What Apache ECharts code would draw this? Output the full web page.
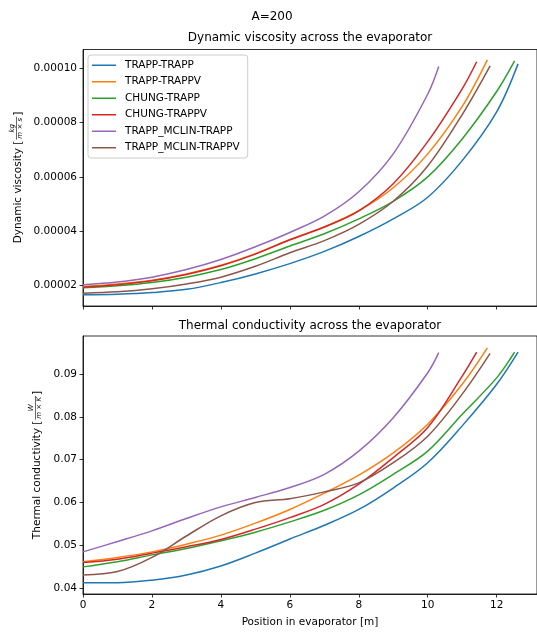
<!DOCTYPE html>
<html>
<head>
<meta charset="utf-8">
<script src="https://cdn.jsdelivr.net/npm/echarts@6/dist/echarts.min.js"></script>
<style>
  html, body { margin: 0; padding: 0; background: #fff; }
  #chart { width: 537px; height: 633px; }
</style>
</head>
<body>
<div id="chart"></div>
<script>
// series names (legend order)
const seriesNames = ["TRAPP-TRAPP", "TRAPP-TRAPPV", "CHUNG-TRAPP", "CHUNG-TRAPPV", "TRAPP_MCLIN-TRAPP", "TRAPP_MCLIN-TRAPPV"];
const colors = ["#1f77b4", "#ff7f0e", "#2ca02c", "#d62728", "#9467bd", "#8c564b"];

// position in evaporator [m], one list per model combination
const posTrappTrapp = [0, 1, 2, 3, 4, 5, 6, 7, 8, 9, 10, 11, 12, 12.62];
const posTrappTrappv = [0, 1, 2, 3, 4, 5, 6, 7, 8, 9, 10, 11, 11.73];
const posChungTrapp = [0, 1, 2, 3, 4, 5, 6, 7, 8, 9, 10, 11, 12, 12.52];
const posChungTrappv = [0, 1, 2, 3, 4, 5, 6, 7, 8, 9, 10, 11, 11.42];
const posMclinTrapp = [0, 1, 2, 3, 4, 5, 6, 7, 8, 9, 10, 10.32];
const posMclinTrappv = [0, 1, 2, 3, 4, 5, 6, 7, 8, 9, 10, 11, 11.81];

// dynamic viscosity [kg/(m s)]
const viscTrappTrapp = [1.65e-5, 1.67e-5, 1.73e-5, 1.85e-5, 2.10e-5, 2.42e-5, 2.80e-5, 3.25e-5, 3.80e-5, 4.45e-5, 5.25e-5, 6.60e-5, 8.40e-5, 10.17e-5];
const viscTrappTrappv = [1.96e-5, 2.05e-5, 2.19e-5, 2.42e-5, 2.74e-5, 3.17e-5, 3.68e-5, 4.15e-5, 4.75e-5, 5.60e-5, 6.85e-5, 8.60e-5, 10.32e-5];
const viscChungTrapp = [1.91e-5, 1.98e-5, 2.10e-5, 2.30e-5, 2.58e-5, 2.98e-5, 3.45e-5, 3.90e-5, 4.45e-5, 5.10e-5, 6.00e-5, 7.40e-5, 9.15e-5, 10.28e-5];
const viscChungTrappv = [1.93e-5, 2.02e-5, 2.17e-5, 2.40e-5, 2.72e-5, 3.15e-5, 3.68e-5, 4.15e-5, 4.75e-5, 5.75e-5, 7.30e-5, 9.25e-5, 10.25e-5];
const viscMclinTrapp = [2.02e-5, 2.12e-5, 2.30e-5, 2.58e-5, 2.95e-5, 3.42e-5, 3.95e-5, 4.55e-5, 5.45e-5, 6.85e-5, 9.05e-5, 10.07e-5];
const viscMclinTrappv = [1.71e-5, 1.76e-5, 1.87e-5, 2.05e-5, 2.30e-5, 2.70e-5, 3.20e-5, 3.65e-5, 4.25e-5, 5.10e-5, 6.40e-5, 8.30e-5, 10.10e-5];

// thermal conductivity [W/(m K)]
const condTrappTrapp = [0.0413, 0.0413, 0.0419, 0.0431, 0.0452, 0.0482, 0.0515, 0.0547, 0.0584, 0.0634, 0.0693, 0.0779, 0.0876, 0.0951];
const condTrappTrappv = [0.0462, 0.0472, 0.0485, 0.0503, 0.0524, 0.0552, 0.0584, 0.0622, 0.0664, 0.0716, 0.0783, 0.0876, 0.0961];
const condChungTrapp = [0.0450, 0.0462, 0.0478, 0.0493, 0.0511, 0.0531, 0.0555, 0.0582, 0.0618, 0.0666, 0.0720, 0.0806, 0.0891, 0.0951];
const condChungTrappv = [0.0460, 0.0468, 0.0482, 0.0497, 0.0514, 0.0538, 0.0565, 0.0596, 0.0643, 0.0705, 0.0775, 0.0895, 0.0951];
const condMclinTrapp = [0.0485, 0.0509, 0.0534, 0.0563, 0.0590, 0.0612, 0.0635, 0.0666, 0.0720, 0.0798, 0.0903, 0.0950];
const condMclinTrappv = [0.0431, 0.0439, 0.0472, 0.0522, 0.0569, 0.0600, 0.0609, 0.0625, 0.0646, 0.0693, 0.0755, 0.0853, 0.0948];

// tick labels
const xTicks = [0, 2, 4, 6, 8, 10, 12];
const viscTicks = [0.00002, 0.00004, 0.00006, 0.00008, 0.00010];
const condTicks = [0.04, 0.05, 0.06, 0.07, 0.08, 0.09];

const positions = [posTrappTrapp, posTrappTrappv, posChungTrapp, posChungTrappv, posMclinTrapp, posMclinTrappv];
const viscosity = [viscTrappTrapp, viscTrappTrappv, viscChungTrapp, viscChungTrappv, viscMclinTrapp, viscMclinTrappv];
const conductivity = [condTrappTrapp, condTrappTrappv, condChungTrapp, condChungTrappv, condMclinTrapp, condMclinTrappv];

const FONT = "DejaVu Sans";

function pairs(xs, ys) {
  return xs.map((x, i) => [x, ys[i]]);
}

// rotated y label with a small fraction for the unit
function yLabel(cx, cy, mainText, num, den) {
  const ctx = document.createElement("canvas").getContext("2d");
  ctx.font = "10.5px '" + FONT + "'";
  const wMain = ctx.measureText(mainText).width;
  const wBr = ctx.measureText("]").width;
  ctx.font = "italic 7px '" + FONT + "'";
  const wFrac = Math.max(ctx.measureText(num).width, ctx.measureText(den).width) + 2;
  const total = wMain + 1 + wFrac + 1 + wBr;
  const x0 = -total / 2;
  const fx = x0 + wMain + 1;
  return {
    type: "group", x: cx, y: cy, rotation: Math.PI / 2, silent: true,
    children: [
      { type: "text", x: x0, y: 0, style: { text: mainText, font: "10.5px '" + FONT + "'", fill: "#000", align: "left", verticalAlign: "middle" } },
      { type: "text", x: fx + wFrac / 2, y: -2, style: { text: num, font: "italic 7px '" + FONT + "'", fill: "#000", align: "center", verticalAlign: "bottom" } },
      { type: "line", shape: { x1: fx, y1: -1.5, x2: fx + wFrac, y2: -1.5 }, style: { stroke: "#000", lineWidth: 0.6 } },
      { type: "text", x: fx + wFrac / 2, y: -1, style: { text: den, font: "italic 7px '" + FONT + "'", fill: "#000", align: "center", verticalAlign: "top" } },
      { type: "text", x: fx + wFrac + 1, y: 0, style: { text: "]", font: "10.5px '" + FONT + "'", fill: "#000", align: "left", verticalAlign: "middle" } }
    ]
  };
}

function plainText(x, y, text, size) {
  return { type: "text", x: x, y: y, silent: true,
    style: { text: text, font: size + "px '" + FONT + "'", fill: "#000", align: "center", verticalAlign: "middle" } };
}

const axisLineStyle = { color: "#000", width: 0.8 };

function xAxisCfg(gridIndex, showLabels) {
  return {
    gridIndex: gridIndex, type: "value", min: 0, max: 13.17,
    axisLine: { show: true, onZero: false, lineStyle: axisLineStyle },
    axisTick: { show: true, length: 3.5, customValues: xTicks, lineStyle: axisLineStyle },
    axisLabel: { show: showLabels, customValues: xTicks, margin: 6, color: "#000", fontFamily: FONT, fontSize: 10.5 },
    splitLine: { show: false },
    name: showLabels ? "Position in evaporator [m]" : "",
    nameLocation: "middle", nameGap: 23,
    nameTextStyle: { color: "#000", fontFamily: FONT, fontSize: 10.5 }
  };
}

function yAxisCfg(gridIndex, min, max, ticks, digits) {
  return {
    gridIndex: gridIndex, type: "value", min: min, max: max,
    axisLine: { show: true, onZero: false, lineStyle: axisLineStyle },
    axisTick: { show: true, length: 3.5, customValues: ticks, lineStyle: axisLineStyle },
    axisLabel: { customValues: ticks, margin: 6, color: "#000", fontFamily: FONT, fontSize: 10.5,
      formatter: (v) => v.toFixed(digits) },
    splitLine: { show: false }
  };
}

const series = [];
seriesNames.forEach((name, i) => {
  series.push({
    name: name, type: "line", xAxisIndex: 0, yAxisIndex: 0,
    data: pairs(positions[i], viscosity[i]),
    smooth: 0.35, symbol: "none", showSymbol: false,
    lineStyle: { width: 1.5, color: colors[i] }, itemStyle: { color: colors[i] }
  });
});
seriesNames.forEach((name, i) => {
  series.push({
    name: name, type: "line", xAxisIndex: 1, yAxisIndex: 1,
    data: pairs(positions[i], conductivity[i]),
    smooth: 0.35, symbol: "none", showSymbol: false,
    lineStyle: { width: 1.5, color: colors[i] }, itemStyle: { color: colors[i] }
  });
});

const chart = echarts.init(document.getElementById("chart"));
chart.setOption({
  animation: false,
  backgroundColor: "#fff",
  grid: [
    { left: 83, top: 49.5, width: 455, height: 256.5, show: true, borderColor: "#000", borderWidth: 0.8 },
    { left: 83, top: 336, width: 455, height: 258, show: true, borderColor: "#000", borderWidth: 0.8 }
  ],
  xAxis: [xAxisCfg(0, false), xAxisCfg(1, true)],
  yAxis: [
    yAxisCfg(0, 1.236e-5, 1.0701e-4, viscTicks, 5),
    yAxisCfg(1, 0.03867, 0.09887, condTicks, 2)
  ],
  legend: {
    data: seriesNames, orient: "vertical", left: 88, top: 55,
    icon: "rect", itemWidth: 24, itemHeight: 1.5, itemGap: 4,
    padding: [4, 8, 4, 4],
    backgroundColor: "rgba(255,255,255,0.8)", borderColor: "#ccc", borderWidth: 1, borderRadius: 3,
    textStyle: { color: "#000", fontFamily: FONT, fontSize: 10.5, lineHeight: 12.5, padding: [0, 0, 0, 4] }
  },
  graphic: [
    plainText(272, 17, "A=200", 12),
    plainText(310, 38, "Dynamic viscosity across the evaporator", 12),
    plainText(310, 326, "Thermal conductivity across the evaporator", 12),
    yLabel(18, 177.5, "Dynamic viscosity [", "kg", "m × s"),
    yLabel(37, 465, "Thermal conductivity [", "W", "m × K")
  ],
  series: series
});
</script>
</body>
</html>
